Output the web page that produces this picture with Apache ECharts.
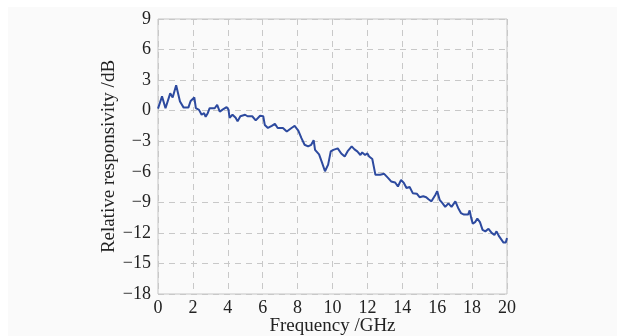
<!DOCTYPE html>
<html>
<head>
<meta charset="utf-8">
<script src="https://cdn.jsdelivr.net/npm/echarts@6/dist/echarts.min.js"></script>
<style>
html,body{margin:0;padding:0;background:#ffffff;}
#c{position:absolute;left:8px;top:7px;width:609px;height:329px;background:#fafafa;}
</style>
</head>
<body>
<div id="c"></div>
<script>
var freq = [0, 0.23, 0.43, 0.7, 0.84, 1.04, 1.26, 1.47, 1.74, 1.87, 2.08, 2.17, 2.35, 2.5, 2.64, 2.73, 2.85, 2.96, 3.25, 3.39, 3.54, 3.7, 3.93, 4.04, 4.1, 4.27, 4.45, 4.56, 4.72, 4.99, 5.13, 5.4, 5.6, 5.85, 6.03, 6.12, 6.3, 6.52, 6.7, 6.86, 7.16, 7.38, 7.65, 7.83, 8.04, 8.22, 8.4, 8.6, 8.78, 8.92, 9.0, 9.23, 9.41, 9.57, 9.75, 9.9, 10.05, 10.3, 10.5, 10.7, 10.86, 11.1, 11.26, 11.42, 11.6, 11.7, 11.87, 12.0, 12.1, 12.28, 12.39, 12.46, 12.57, 12.73, 12.96, 13.18, 13.36, 13.59, 13.75, 13.93, 14.09, 14.24, 14.42, 14.6, 14.83, 14.99, 15.2, 15.37, 15.5, 15.67, 15.78, 15.9, 16.0, 16.14, 16.3, 16.46, 16.64, 16.82, 16.9, 17.04, 17.2, 17.36, 17.54, 17.77, 17.86, 17.95, 18.04, 18.17, 18.3, 18.45, 18.6, 18.76, 18.94, 19.12, 19.28, 19.4, 19.55, 19.66, 19.8, 19.93, 20];
var resp = [0.2, 1.4, 0.24, 1.7, 1.3, 2.5, 0.9, 0.3, 0.3, 0.95, 1.3, 0.24, 0.08, -0.4, -0.25, -0.6, -0.25, 0.24, 0.24, 0.57, -0.1, 0.1, 0.35, 0.1, -0.7, -0.4, -0.7, -1.05, -0.55, -0.4, -0.55, -0.55, -0.95, -0.5, -0.55, -1.4, -1.7, -1.5, -1.3, -1.7, -1.7, -2.05, -1.7, -1.5, -1.95, -2.7, -3.35, -3.5, -3.35, -2.9, -3.85, -4.3, -5.15, -5.95, -5.3, -4.0, -3.85, -3.7, -4.2, -4.5, -4.0, -3.5, -3.8, -4.0, -4.35, -4.1, -4.35, -4.2, -4.5, -4.75, -4.75, -6.3, -6.15, -6.3, -6.2, -6.6, -6.95, -7.05, -7.45, -6.8, -7.1, -7.6, -7.5, -8.1, -8.15, -8.5, -8.4, -8.5, -8.7, -8.9, -9.07, -8.25, -7.9, -8.75, -9.07, -9.45, -9.1, -9.45, -9.4, -8.9, -9.55, -10.05, -10.2, -10.2, -9.8, -10.55, -11.1, -10.95, -10.6, -10.95, -11.7, -11.85, -11.6, -12.0, -12.2, -11.85, -12.35, -12.5, -12.95, -12.95, -12.5];
var xTitle = 'Frequency /GHz';
var yTitle = 'Relative responsivity /dB';

var data = freq.map(function (f, i) { return [f, resp[i]]; });
var font = 'Liberation Serif';
var chart = echarts.init(document.getElementById('c'));
chart.setOption({
  animation: false,
  backgroundColor: '#fafafa',
  grid: { left: 150, top: 12, right: 110, bottom: 42, show: true, borderColor: '#c4c4c4', borderWidth: 1,
    backgroundColor: 'transparent', containLabel: false, outerBoundsMode: 'none' },
  xAxis: {
    type: 'value', min: 0, max: 20, interval: 2,
    name: xTitle, nameLocation: 'middle', nameGap: 23, nameMoveOverlap: false,
    nameTextStyle: { fontFamily: font, fontSize: 19, color: '#222' },
    axisLine: { show: false }, axisTick: { show: false },
    axisLabel: { fontFamily: font, fontSize: 18, color: '#222', margin: 5 },
    splitLine: { show: true, lineStyle: { type: [6, 5], color: '#c8c8c8', width: 1 } }
  },
  yAxis: {
    type: 'value', min: -18, max: 9, interval: 3,
    name: yTitle, nameLocation: 'middle', nameGap: 39, nameRotate: 90, nameMoveOverlap: false,
    nameTextStyle: { fontFamily: font, fontSize: 19, color: '#222' },
    axisLine: { show: false }, axisTick: { show: false },
    axisLabel: { fontFamily: font, fontSize: 18, color: '#222', margin: 7,
      formatter: function (v) { return String(v).replace('-', '\u2212'); } },
    splitLine: { show: true, lineStyle: { type: [6, 5], color: '#c8c8c8', width: 1 } }
  },
  series: [{
    type: 'line', data: data, showSymbol: false, symbol: 'none',
    lineStyle: { color: '#2d4a9f', width: 2 }
  }]
});
</script>
</body>
</html>
